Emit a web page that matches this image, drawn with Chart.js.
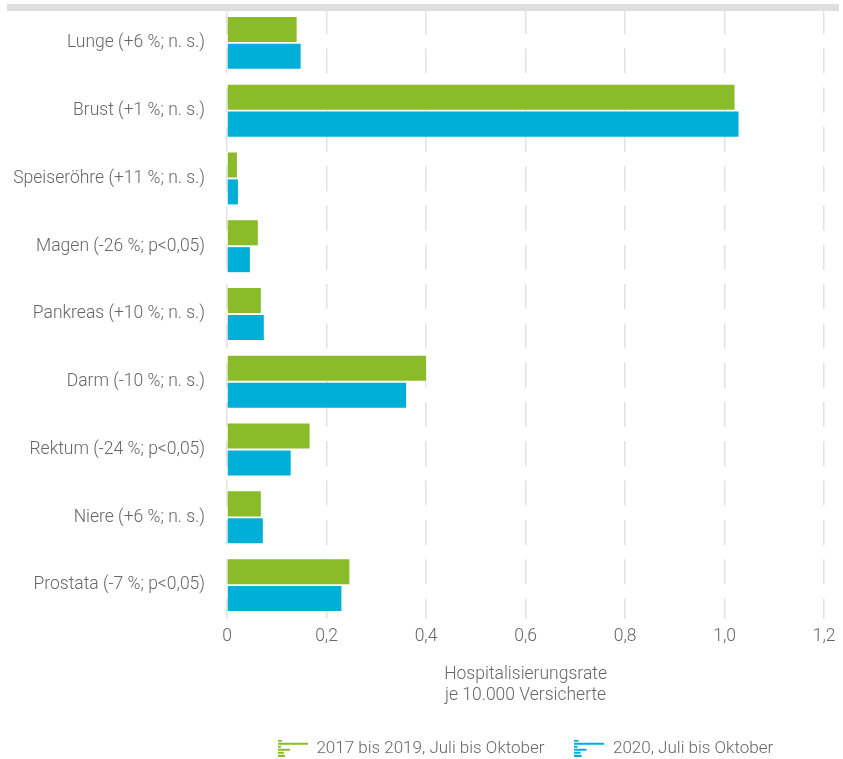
<!DOCTYPE html>
<html lang="de">
<head>
    <meta charset="UTF-8">
    <title>Hospitalisierungsrate Krebs</title>
    <script src="https://cdn.jsdelivr.net/npm/chart.js"></script>
    <style>
        body { margin: 0; background: #fff; }
    </style>
</head>
<body>
<canvas id="rateChart" width="843" height="759"></canvas>
<script>
    // Werte
    const categories = [
        'Lunge (+6 %; n. s.)',
        'Brust (+1 %; n. s.)',
        'Speiseröhre (+11 %; n. s.)',
        'Magen (-26 %; p<0,05)',
        'Pankreas (+10 %; n. s.)',
        'Darm (-10 %; n. s.)',
        'Rektum (-24 %; p<0,05)',
        'Niere (+6 %; n. s.)',
        'Prostata (-7 %; p<0,05)'
    ];
    const rate2017to2019 = [0.14, 1.02, 0.02, 0.062, 0.068, 0.40, 0.166, 0.068, 0.246];
    const rate2020 = [0.148, 1.028, 0.022, 0.046, 0.074, 0.36, 0.128, 0.072, 0.23];
    const seriesLabels = ['2017 bis 2019, Juli bis Oktober', '2020, Juli bis Oktober'];
    const tickLabels = ['0', '0,2', '0,4', '0,6', '0,8', '1,0', '1,2'];
    const axisTitle = ['Hospitalisierungsrate', 'je 10.000 Versicherte'];

    const green = '#89bc28';
    const blue = '#00afd8';
    const textGray = '#666666';
    const fontFamily = 'Roboto, "Noto Sans", sans-serif';
    const textFont = { family: fontFamily, size: 17.5, weight: '300' };

    // kleines Balken-Symbol fuer die Legende
    function legendIcon(color) {
        const c = document.createElement('canvas');
        c.width = 30;
        c.height = 17;
        const g = c.getContext('2d');
        g.fillStyle = color;
        const rows = [[0, 4], [3, 30], [6, 3], [9, 12], [12, 6], [15, 7]];
        rows.forEach(r => g.fillRect(0, r[0], r[1], 2));
        return c;
    }

    // grauer Balken oben
    const topBar = {
        id: 'topBar',
        beforeDraw(chart) {
            const ctx = chart.ctx;
            ctx.save();
            ctx.fillStyle = '#dedede';
            ctx.fillRect(7, 4, 832, 7);
            ctx.restore();
        }
    };

    const ctx = document.getElementById('rateChart').getContext('2d');
    const chart = new Chart(ctx, {
        type: 'bar',
        data: {
            labels: categories,
            datasets: [
                {
                    label: seriesLabels[0],
                    data: rate2017to2019,
                    backgroundColor: green,
                    pointStyle: legendIcon(green),
                    categoryPercentage: 0.794,
                    barPercentage: 0.93
                },
                {
                    label: seriesLabels[1],
                    data: rate2020,
                    backgroundColor: blue,
                    pointStyle: legendIcon(blue),
                    categoryPercentage: 0.794,
                    barPercentage: 0.93
                }
            ]
        },
        options: {
            indexAxis: 'y',
            responsive: false,
            animation: false,
            layout: {
                padding: { top: 9, right: 15, left: 0, bottom: -7.75 }
            },
            plugins: {
                tooltip: { enabled: false },
                legend: {
                    position: 'bottom',
                    fullSize: false,
                    labels: {
                        usePointStyle: true,
                        pointStyleWidth: 30,
                        padding: 30,
                        color: textGray,
                        font: { family: fontFamily, size: 17, weight: '300' }
                    }
                }
            },
            scales: {
                x: {
                    min: 0,
                    max: 1.2,
                    ticks: {
                        stepSize: 0.2,
                        padding: 7.5,
                        color: textGray,
                        font: textFont,
                        callback: (v, i) => tickLabels[i]
                    },
                    grid: {
                        color: '#e2e2e2',
                        lineWidth: 1.5,
                        drawTicks: false
                    },
                    border: { display: false, dash: [25, 14.3] },
                    title: {
                        display: true,
                        text: axisTitle,
                        color: textGray,
                        padding: { top: 9, bottom: 3.75 },
                        font: { family: fontFamily, size: 17.5, weight: '300', lineHeight: 1.2 }
                    }
                },
                y: {
                    grid: { display: false, drawTicks: false },
                    border: { display: false },
                    ticks: {
                        padding: 22,
                        color: textGray,
                        font: textFont
                    },
                    afterFit(scale) {
                        scale.width = 227;
                        scale.paddingTop = 0;
                        scale.paddingBottom = 0;
                    }
                }
            }
        },
        plugins: [topBar]
    });
</script>
</body>
</html>
